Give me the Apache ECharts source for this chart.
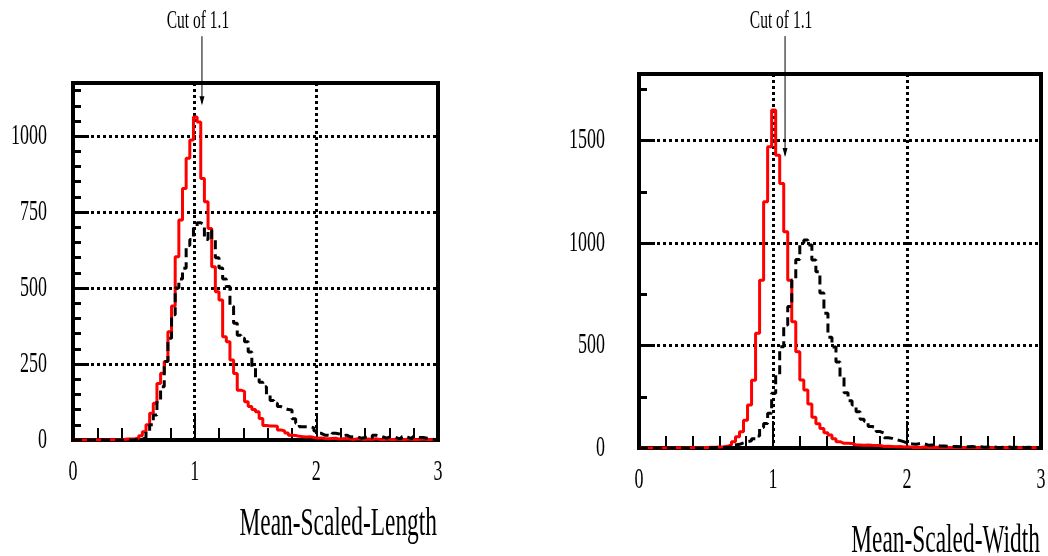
<!DOCTYPE html>
<html>
<head>
<meta charset="utf-8">
<script src="https://cdn.jsdelivr.net/npm/echarts@6.0.0/dist/echarts.min.js"></script>
<style>
html,body{margin:0;padding:0;background:#ffffff;}
#c{width:1048px;height:556px;}
</style>
</head>
<body>
<div id="c"></div>
<script>
// ---- data (100 bins of width 0.03 from 0 to 3) ----
const binWidth = 0.03;

// Mean-Scaled-Length: red solid, black dashed
const lengthRed = [
  0,0,0,0,1,0,1,0,1,1,
  1,2,1,2,3,3,4,6,14,27,
  50,88,121,186,220,258,356,441,603,724,
  828,927,987,1063,1047,861,784,696,570,488,
  461,340,323,263,219,164,160,126,110,100,
  93,71,48,46,46,45,33,30,23,16,
  15,12,11,10,11,8,6,7,5,4,
  5,6,3,4,5,3,2,4,3,2,
  3,2,4,2,1,3,2,2,3,1,
  2,3,2,1,2,3,2,1,2,1
];
const lengthBlack = [
  0,0,0,0,0,0,0,0,0,0,
  0,0,0,0,0,0,1,1,2,8,
  27,50,82,130,175,258,335,412,500,530,
  565,640,660,700,715,709,660,690,660,600,
  566,530,505,440,384,345,335,323,290,240,
  205,190,175,150,130,121,110,104,100,99,
  70,55,44,44,44,40,30,22,16,16,
  14,22,20,14,16,10,11,10,6,8,
  11,6,16,14,10,6,11,10,6,4,
  11,8,4,11,8,8,6,4,2,2
];

// Mean-Scaled-Width
const widthRed = [
  0,0,0,0,0,0,0,0,0,1,
  0,1,1,2,2,3,3,4,4,5,
  6,8,15,31,55,79,136,210,330,560,
  819,1202,1470,1649,1429,1291,1055,819,616,470,
  332,283,215,150,118,95,75,63,45,31,
  23,23,22,15,15,14,15,13,12,12,
  7,8,7,6,7,5,6,3,4,3,
  5,2,3,4,2,3,2,3,2,1,
  3,2,2,1,2,3,1,2,2,1,
  2,1,2,3,1,2,1,2,1,2
];
const widthBlack = [
  0,0,0,0,0,0,0,0,0,0,
  0,0,0,0,0,0,1,1,2,2,
  3,3,5,15,18,25,31,35,45,58,
  100,120,170,267,360,494,600,690,820,920,
  1000,1015,990,917,860,756,658,541,493,420,
  347,270,230,210,177,140,130,105,100,80,
  72,50,47,40,36,30,22,20,18,22,
  20,14,15,12,10,10,8,7,7,6,
  7,6,7,5,6,4,5,6,4,3,
  4,5,3,4,4,3,4,2,3,2
];

// ---- axes / text ----
const xTickLabels = ['0', '1', '2', '3'];
const lengthYTickLabels = ['0', '250', '500', '750', '1000'];
const widthYTickLabels = ['0', '500', '1000', '1500'];
const yMax = [1175, 1825];
const yMajor = [250, 500];
const yMinor = [50, 250];
const xMinor = 0.2;
const xTitles = ['Mean-Scaled-Length', 'Mean-Scaled-Width'];
const cutText = 'Cut of 1.1';
const cutArrowX = [1.06, 1.09];
const cutArrowTop = [1329, 2010];
const cutArrowTip = [1102, 1420];

function toSteps(vals) {
  const d = vals.map((v, i) => [+(i * binWidth).toFixed(4), v]);
  d.push([+(vals.length * binWidth).toFixed(4), vals[vals.length - 1]]);
  return d;
}

const grids = [
  {left: 73, top: 83, width: 365, height: 357},
  {left: 639, top: 74, width: 402, height: 374}
].map(g => Object.assign(g, {show: true, borderColor: '#000', borderWidth: 4, backgroundColor: 'transparent', containLabel: false}));

function dotted() { return {color: '#000', width: 3, type: [3, 3]}; }
function tickAxisCommon(len, w) {
  return {
    axisLine: {show: true, onZero: false, lineStyle: {color: '#000', width: 4}},
    axisTick: {show: true, inside: true, length: len, lineStyle: {color: '#000', width: w}},
    axisLabel: {show: false},
    minorTick: {show: false},
    minorSplitLine: {show: false}
  };
}

const xAxes = [];
[0, 1].forEach(gi => {
  xAxes.push(Object.assign({
    type: 'value', gridIndex: gi, position: 'bottom', min: 0, max: 3, interval: 1,
    splitLine: {show: true, lineStyle: dotted()}
  }, tickAxisCommon(27, 2)));
  xAxes.push(Object.assign({
    type: 'value', gridIndex: gi, position: 'bottom', min: 0, max: 3, interval: xMinor,
    splitLine: {show: false}
  }, tickAxisCommon(12, 2)));
});

const yAxes = [];
[0, 1].forEach(gi => {
  yAxes.push(Object.assign({
    type: 'value', gridIndex: gi, position: 'left', min: 0, max: yMax[gi], interval: yMajor[gi],
    splitLine: {show: true, lineStyle: dotted()}
  }, tickAxisCommon(16, 3)));
  yAxes.push(Object.assign({
    type: 'value', gridIndex: gi, position: 'left', min: 0, max: yMax[gi], interval: yMinor[gi],
    splitLine: {show: false}
  }, tickAxisCommon(8, 3)));
});

function histSeries(gi, vals, color, dash, z) {
  return {
    type: 'line', xAxisIndex: gi * 2, yAxisIndex: gi * 2,
    data: toSteps(vals), step: 'end',
    symbol: 'none', showSymbol: false, silent: true, animation: false, z: z,
    lineStyle: {color: color, width: 3, type: dash}
  };
}

const option = {
  animation: false,
  backgroundColor: '#ffffff',
  grid: grids,
  xAxis: xAxes,
  yAxis: yAxes,
  series: [
    histSeries(0, lengthRed, '#ff0000', 'solid', 3),
    histSeries(0, lengthBlack, '#000000', [9, 5], 4),
    histSeries(1, widthRed, '#ff0000', 'solid', 3),
    histSeries(1, widthBlack, '#000000', [9, 5], 4)
  ]
};

const chart = echarts.init(document.getElementById('c'), null, {renderer: 'canvas'});
chart.setOption(option);

function px(gi, pt) {
  return chart.convertToPixel({xAxisIndex: gi * 2, yAxisIndex: gi * 2}, pt);
}
const FONT = '"Liberation Serif", "Times New Roman", serif';
function txt(x, y, text, size, align, vAlign, sx) {
  return {
    type: 'text', x: x, y: y, scaleX: sx, scaleY: 1, silent: true, z: 100,
    style: {
      text: text, x: 0, y: 0, fill: '#000',
      font: size + 'px ' + FONT,
      align: align, verticalAlign: vAlign,
      textAlign: align, textVerticalAlign: vAlign
    }
  };
}

const g = [];
const yLabelGap = [26, 34];
const xLabelGap = [32, 32];
const titleGap = [85, 94];
[0, 1].forEach(gi => {
  const yLabs = gi === 0 ? lengthYTickLabels : widthYTickLabels;
  yLabs.forEach(l => {
    const p = px(gi, [0, +l]);
    g.push(txt(p[0] - yLabelGap[gi], p[1], l, 30, 'right', 'middle', 0.6));
  });
  xTickLabels.forEach(l => {
    const p = px(gi, [+l, 0]);
    g.push(txt(p[0], p[1] + xLabelGap[gi], l, 30, 'center', 'middle', 0.6));
  });
  const pr = px(gi, [3, 0]);
  g.push(txt(pr[0] - 1, pr[1] + titleGap[gi], xTitles[gi], 39, 'right', 'middle', 0.6));

  const top = px(gi, [cutArrowX[gi], cutArrowTop[gi]]);
  const tip = px(gi, [cutArrowX[gi], cutArrowTip[gi]]);
  g.push({type: 'line', silent: true, z: 100,
    shape: {x1: top[0], y1: top[1], x2: tip[0], y2: tip[1] - 2},
    style: {stroke: '#000', lineWidth: 1}});
  g.push({type: 'polygon', silent: true, z: 100,
    shape: {points: [[tip[0] - 2.5, tip[1] - 9], [tip[0] + 2.5, tip[1] - 9], [tip[0], tip[1]]]},
    style: {fill: '#000'}});
  g.push(txt(top[0] - 4, top[1] - 15, cutText, 25, 'center', 'middle', 0.62));
});
chart.setOption({graphic: g});
</script>
</body>
</html>
